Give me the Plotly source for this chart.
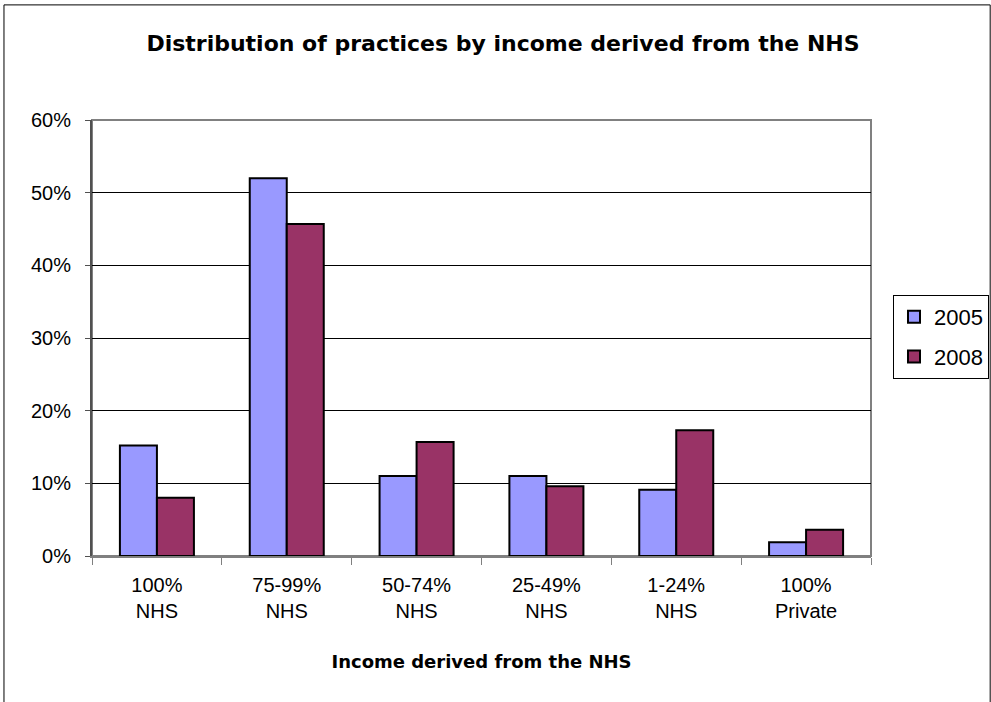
import plotly.graph_objects as go

categories = ["100%<br>NHS", "75-99%<br>NHS", "50-74%<br>NHS", "25-49%<br>NHS", "1-24%<br>NHS", "100%<br>Private"]
values_2005 = [15.2, 52.0, 11.0, 11.0, 9.1, 1.9]
values_2008 = [8.0, 45.7, 15.7, 9.6, 17.3, 3.6]
y_ticks = [0, 10, 20, 30, 40, 50, 60]

fig = go.Figure()
fig.add_trace(go.Bar(name="2005", x=categories, y=values_2005, legendgroup="a",
                     marker=dict(color="#9999FF", line=dict(color="black", width=2))))
fig.add_trace(go.Bar(name="2008", x=categories, y=values_2008, legendgroup="b",
                     marker=dict(color="#993366", line=dict(color="black", width=2))))

font_family = "Liberation Sans, Arial, sans-serif"
bold_family = "DejaVu Sans, Liberation Sans, sans-serif"
fig.update_layout(
    width=991, height=702,
    margin=dict(l=92, r=120, t=120, b=146),
    paper_bgcolor="white", plot_bgcolor="white",
    barmode="group", bargap=0.43, bargroupgap=0,
    font=dict(family=font_family, size=20, color="black"),
    title=dict(text="<b>Distribution of practices by income derived from the NHS</b>",
               x=503 / 991, xanchor="center", y=1 - 43 / 702, yanchor="middle",
               font=dict(size=22, family=bold_family)),
    showlegend=True,
    legend=dict(xref="container", yref="container", x=893 / 991, xanchor="left",
                y=1 - 337 / 702, yanchor="middle",
                bordercolor="black", borderwidth=1, bgcolor="white",
                traceorder="grouped", tracegroupgap=8,
                font=dict(size=22), itemsizing="constant"),
    xaxis=dict(showline=True, linecolor="#808080", linewidth=2,
               ticks="outside", tickson="boundaries", ticklen=7, tickcolor="#808080",
               tickfont=dict(size=20), ticklabelstandoff=10,
               title=dict(text="<b>Income derived from the NHS</b>",
                          font=dict(size=18, family=bold_family), standoff=34),
               mirror=False),
    yaxis=dict(range=[0, 60], tickvals=y_ticks, ticktext=[f"{v}%" for v in y_ticks],
               showgrid=True, gridcolor="black", gridwidth=1,
               showline=True, linecolor="#505050", linewidth=2,
               ticks="outside", ticklen=5, tickcolor="#505050",
               tickfont=dict(size=20), ticklabelstandoff=10, zeroline=False),
    shapes=[
        dict(type="rect", xref="paper", yref="paper", x0=0, x1=1, y0=0, y1=1,
             line=dict(color="#808080", width=2), layer="below"),
        dict(type="rect", xref="paper", yref="paper", x0=-0.113, x1=1.153, y0=-0.4, y1=1.264,
             line=dict(color="black", width=1)),
    ],
)

fig.write_html("out.html", config=dict(displayModeBar=False),
               post_script="document.body.style.margin='0';document.body.style.overflow='hidden';")
